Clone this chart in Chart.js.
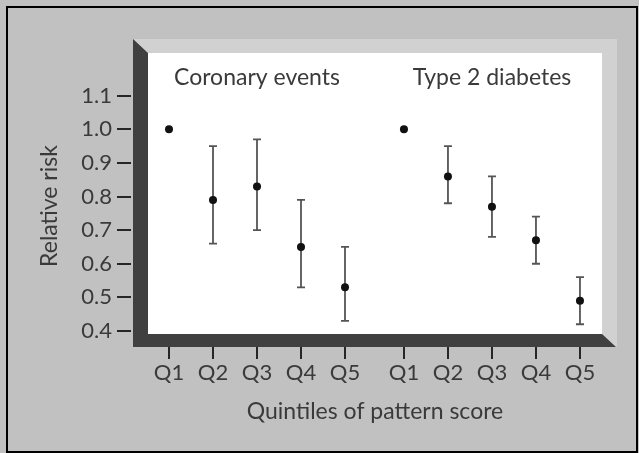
<!DOCTYPE html>
<html>
<head>
<meta charset="utf-8">
<script src="https://cdn.jsdelivr.net/npm/chart.js@4.4.0/dist/chart.umd.min.js"></script>
<style>
  html, body { margin: 0; padding: 0; background: #c1c1c1; }
  canvas { display: block; }
</style>
</head>
<body>
<canvas id="rrChart" width="639" height="453"></canvas>
<script>
const quintiles = ['Q1', 'Q2', 'Q3', 'Q4', 'Q5'];
const groupNames = ['Coronary events', 'Type 2 diabetes'];

const coronaryRR = [1.0, 0.79, 0.83, 0.65, 0.53];
const coronaryLow = [null, 0.66, 0.70, 0.53, 0.43];
const coronaryHigh = [null, 0.95, 0.97, 0.79, 0.65];

const diabetesRR = [1.0, 0.86, 0.77, 0.67, 0.49];
const diabetesLow = [null, 0.78, 0.68, 0.60, 0.42];
const diabetesHigh = [null, 0.95, 0.86, 0.74, 0.56];

const yTicks = [0.4, 0.5, 0.6, 0.7, 0.8, 0.9, 1.0, 1.1];

// second group sits a little more than one slot after the first
const groupGap = 5.34;
const xPos = (g, i) => g * groupGap + i;
const tickPositions = [0, 1].flatMap(g => quintiles.map((q, i) => xPos(g, i)));

const lows = [coronaryLow, diabetesLow];
const highs = [coronaryHigh, diabetesHigh];

const textColor = '#3a3a3a';
const font = { family: "Lato, sans-serif", size: 23 };
const tickFont = { family: "Lato, sans-serif", size: 22 };

const boxPlugin = {
    id: 'box',
    beforeDraw(chart) {
        const ctx = chart.ctx;
        ctx.save();
        ctx.fillStyle = '#c1c1c1';
        ctx.fillRect(0, 0, chart.width, chart.height);
        ctx.strokeStyle = '#000';
        ctx.lineWidth = 2;
        ctx.strokeRect(7, 7, 630, 445);

        // back of the box
        ctx.fillStyle = '#d1d1d1';
        ctx.fillRect(133, 39, 484, 308);
        ctx.fillStyle = '#fff';
        ctx.fillRect(148, 53, 454, 281);

        // left wall + floor
        ctx.fillStyle = '#404040';
        ctx.beginPath();
        ctx.moveTo(133, 39);
        ctx.lineTo(148, 53);
        ctx.lineTo(148, 334);
        ctx.lineTo(602, 334);
        ctx.lineTo(616, 347);
        ctx.lineTo(133, 347);
        ctx.closePath();
        ctx.fill();
        ctx.restore();
    },
    beforeDatasetsDraw(chart) {
        const ctx = chart.ctx;
        const xs = chart.scales.x, ys = chart.scales.y;
        ctx.save();

        // group names
        ctx.fillStyle = textColor;
        ctx.font = font.size + 'px ' + font.family;
        ctx.textAlign = 'center';
        ctx.textBaseline = 'middle';
        groupNames.forEach((name, g) => {
            ctx.fillText(name, xs.getPixelForValue(xPos(g, 2)), ys.getPixelForValue(1.153));
        });

        // error bars
        ctx.strokeStyle = '#555';
        ctx.lineWidth = 1.8;
        lows.forEach((lo, g) => {
            lo.forEach((v, i) => {
                if (v == null) return;
                const x = xs.getPixelForValue(xPos(g, i));
                const y1 = ys.getPixelForValue(v);
                const y2 = ys.getPixelForValue(highs[g][i]);
                ctx.beginPath();
                ctx.moveTo(x, y1); ctx.lineTo(x, y2);
                ctx.moveTo(x - 4, y1); ctx.lineTo(x + 4, y1);
                ctx.moveTo(x - 4, y2); ctx.lineTo(x + 4, y2);
                ctx.stroke();
            });
        });
        ctx.restore();
    }
};

const ctx = document.getElementById('rrChart').getContext('2d');
const myChart = new Chart(ctx, {
    type: 'scatter',
    data: {
        datasets: [
            {
                label: groupNames[0],
                data: coronaryRR.map((v, i) => ({ x: xPos(0, i), y: v })),
                backgroundColor: '#111',
                pointRadius: 4,
                borderWidth: 0
            },
            {
                label: groupNames[1],
                data: diabetesRR.map((v, i) => ({ x: xPos(1, i), y: v })),
                backgroundColor: '#111',
                pointRadius: 4,
                borderWidth: 0
            }
        ]
    },
    options: {
        responsive: false,
        animation: false,
        devicePixelRatio: 1,
        layout: { padding: { top: 65, right: 20, left: 0, bottom: 0 } },
        plugins: {
            legend: { display: false },
            tooltip: { enabled: false }
        },
        scales: {
            x: {
                type: 'linear',
                min: -0.8636,
                max: 10.227,
                afterFit: s => { s.height = 106; },
                afterBuildTicks: s => { s.ticks = tickPositions.map(v => ({ value: v })); },
                grid: { drawOnChartArea: false, tickLength: 12, color: '#262626', lineWidth: 2 },
                border: { display: false },
                ticks: {
                    padding: 1,
                    color: textColor,
                    font: tickFont,
                    autoSkip: false,
                    maxRotation: 0,
                    callback: (v, i) => quintiles[i % quintiles.length]
                },
                title: {
                    display: true,
                    text: 'Quintiles of pattern score',
                    color: textColor,
                    font: font,
                    padding: { top: 0, bottom: 27.5 }
                }
            },
            y: {
                min: 0.35238,
                max: 1.19137,
                afterFit: s => { s.width = 131; },
                afterBuildTicks: s => { s.ticks = yTicks.map(v => ({ value: v })); },
                grid: { drawOnChartArea: false, tickLength: 14, color: '#262626', lineWidth: 2 },
                border: { display: false },
                ticks: {
                    padding: 5,
                    color: textColor,
                    font: tickFont,
                    callback: v => v.toFixed(1)
                },
                title: {
                    display: true,
                    text: 'Relative risk',
                    color: textColor,
                    font: font,
                    padding: { top: 36.2, bottom: 0 }
                }
            }
        }
    },
    plugins: [boxPlugin]
});
</script>
</body>
</html>
